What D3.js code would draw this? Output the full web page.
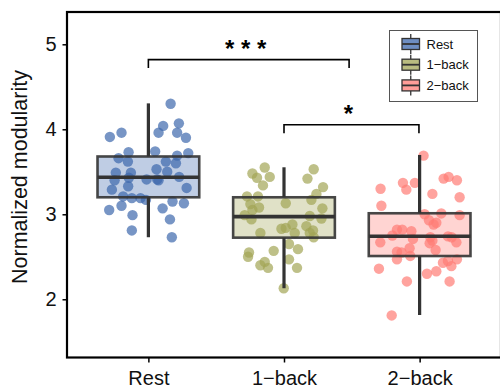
<!DOCTYPE html>
<html><head><meta charset="utf-8">
<script src="https://cdn.jsdelivr.net/npm/d3@7"></script>
<style>
html,body{margin:0;padding:0;background:#fff;}
svg{display:block;font-family:"Liberation Sans",Arial,Helvetica,sans-serif;}
</style></head>
<body>
<svg id="chart" width="500" height="386"></svg>
<script>
const categories = ["Rest", "1−back", "2−back"];
const yTicks = [2, 3, 4, 5];
const yLabel = "Normalized modularity";

// box statistics: [lowWhisker, Q1, median, Q3, highWhisker]
const boxStats = [
  [2.73, 3.20, 3.435, 3.68, 4.305],
  [2.13, 2.725, 2.972, 3.20, 3.553],
  [1.815, 2.509, 2.741, 3.012, 3.698]
];

const restValues = [4.30,4.04,4.07,3.96,3.96,3.90,3.91,3.96,3.73,3.66,3.62,3.74,3.69,3.72,3.62,3.60,3.53,3.50,3.49,3.49,3.43,3.40,3.41,3.41,3.40,3.44,3.33,3.29,3.31,3.21,3.19,3.19,3.17,3.15,3.13,3.10,3.05,3.07,2.99,2.94,2.81,2.73];
const restJitter = [0.164,0.109,0.225,0.075,0.212,0.277,-0.284,-0.198,-0.146,-0.220,-0.151,0.050,0.212,0.294,0.129,0.203,0.060,0.139,-0.240,-0.129,-0.144,-0.249,-0.013,0.065,0.075,0.227,-0.149,-0.269,0.282,-0.186,-0.122,-0.058,-0.018,0.178,0.262,-0.198,-0.289,0.105,-0.117,0.159,-0.122,0.173];

const oneBackValues = [3.55,3.48,3.43,3.44,3.34,3.53,3.42,3.32,3.24,3.17,3.21,3.21,3.12,3.08,3.05,3.13,3.07,2.99,2.94,2.95,2.98,2.88,2.84,2.83,2.86,2.81,2.78,2.78,2.78,2.73,2.65,2.57,2.59,2.55,2.50,2.47,2.44,2.40,2.37,2.37,2.13];
const oneBackJitter = [-0.142,-0.233,-0.199,-0.105,-0.155,0.219,0.173,0.288,0.239,0.202,-0.273,-0.192,-0.248,-0.184,-0.233,0.013,0.283,-0.290,-0.240,0.276,0.190,0.062,0.013,-0.019,0.165,0.214,0.079,-0.174,0.190,0.219,0.037,-0.076,0.103,-0.258,-0.265,0.037,-0.142,-0.174,-0.118,0.096,-0.002];

const twoBackValues = [3.69,3.37,3.37,3.29,3.30,3.42,3.44,3.40,3.24,3.20,3.10,3.00,3.01,2.99,2.93,2.88,2.90,2.82,2.82,2.80,2.75,2.71,2.73,2.69,2.74,2.73,2.67,2.67,2.66,2.58,2.60,2.56,2.55,2.51,2.47,2.47,2.43,2.45,2.39,2.36,2.33,2.30,2.21,2.21,1.81];
const twoBackJitter = [0.029,-0.123,-0.035,-0.098,-0.288,0.177,0.214,0.275,0.094,0.295,-0.282,0.037,0.160,0.295,0.069,0.103,0.123,-0.167,-0.128,-0.061,-0.201,-0.049,0.079,0.094,0.209,0.236,0.271,-0.290,0.074,0.118,-0.074,-0.167,-0.133,-0.069,-0.167,0.275,0.172,0.209,0.234,-0.300,0.123,0.054,-0.094,0.221,-0.206];

const brackets = [
  {from: 0, to: 1.48, y: 4.82, label: "* * *"},
  {from: 1, to: 1.995, y: 4.054, label: "*"}
];

const colors = ["#3d68ad", "#a2a556", "#ff7c75"];

const svg = d3.select("#chart");
const panel = {left: 67, right: 501, top: 12, bottom: 357.5};

const x = d3.scaleLinear().domain([-0.6, 2.6]).range([panel.left, panel.right]);
const y = d3.scaleLinear().domain([1.315, 5.38]).range([panel.bottom, panel.top]);

const groups = [
  {values: restValues, jitter: restJitter},
  {values: oneBackValues, jitter: oneBackJitter},
  {values: twoBackValues, jitter: twoBackJitter}
];

const boxHalf = 0.375;
const lineCol = "#333333";

// points
groups.forEach((g, i) => {
  svg.append("g").selectAll("circle")
    .data(g.values)
    .join("circle")
    .attr("cx", (v, j) => x(i + g.jitter[j]))
    .attr("cy", v => y(v))
    .attr("r", 5.2)
    .attr("fill", colors[i])
    .attr("fill-opacity", 0.7);
});

// boxes
const boxG = svg.append("g");
boxStats.forEach((s, i) => {
  const g = boxG.append("g");
  g.append("line").attr("x1", x(i)).attr("x2", x(i)).attr("y1", y(s[3])).attr("y2", y(s[4]))
    .attr("stroke", lineCol).attr("stroke-width", 3.2);
  g.append("line").attr("x1", x(i)).attr("x2", x(i)).attr("y1", y(s[0])).attr("y2", y(s[1]))
    .attr("stroke", lineCol).attr("stroke-width", 3.2);
  g.append("rect")
    .attr("x", x(i - boxHalf)).attr("width", x(i + boxHalf) - x(i - boxHalf))
    .attr("y", y(s[3])).attr("height", y(s[1]) - y(s[3]))
    .attr("fill", colors[i]).attr("fill-opacity", 0.33)
    .attr("stroke", lineCol).attr("stroke-width", 2.6).attr("stroke-opacity", 0.9);
  g.append("line").attr("x1", x(i - boxHalf)).attr("x2", x(i + boxHalf))
    .attr("y1", y(s[2])).attr("y2", y(s[2]))
    .attr("stroke", lineCol).attr("stroke-width", 3.6);
});

// panel frame
svg.append("rect")
  .attr("x", panel.left).attr("y", panel.top)
  .attr("width", panel.right - panel.left).attr("height", panel.bottom - panel.top)
  .attr("fill", "none").attr("stroke", "#000").attr("stroke-width", 2.2);

// y axis
const yAxis = d3.axisLeft(y).tickValues(yTicks).tickSize(4.5).tickPadding(6).tickFormat(d3.format("d"));
const yg = svg.append("g").attr("transform", `translate(${panel.left},0)`).call(yAxis);
yg.select(".domain").remove();
yg.selectAll(".tick line").attr("stroke", "#000").attr("stroke-width", 1.5);
yg.selectAll(".tick text").attr("font-size", 20).attr("fill", "#111").attr("font-family", "Liberation Sans, Arial, sans-serif");

// x axis
const xAxis = d3.axisBottom(x).tickValues([0, 1, 2]).tickSize(5).tickPadding(8).tickFormat(i => categories[i]);
const xg = svg.append("g").attr("transform", `translate(0,${panel.bottom})`).call(xAxis);
xg.select(".domain").remove();
xg.selectAll(".tick line").attr("stroke", "#000").attr("stroke-width", 1.5);
xg.selectAll(".tick text").attr("font-size", 20).attr("fill", "#111").attr("font-family", "Liberation Sans, Arial, sans-serif");

// y title
svg.append("text")
  .attr("transform", `translate(27,177) rotate(-90)`)
  .attr("text-anchor", "middle")
  .attr("font-size", 21.5)
  .attr("fill", "#111")
  .text(yLabel);

// significance brackets
const br = svg.append("g");
brackets.forEach(b => {
  const tickDrop = 0.1;
  br.append("path")
    .attr("d", `M${x(b.from)},${y(b.y - tickDrop)}V${y(b.y)}H${x(b.to)}V${y(b.y - tickDrop)}`)
    .attr("fill", "none").attr("stroke", "#000").attr("stroke-width", 1.6);
  br.append("text")
    .attr("x", (x(b.from) + x(b.to)) / 2 - 3)
    .attr("y", y(b.y) - 3)
    .attr("text-anchor", "middle")
    .attr("font-size", 24)
    .attr("font-weight", "bold")
    .attr("fill", "#000")
    .text(b.label);
});

// legend
const legend = svg.append("g");
const lg = {x: 389.5, y: 30.5, w: 88, h: 71};
legend.append("rect").attr("x", lg.x).attr("y", lg.y).attr("width", lg.w).attr("height", lg.h)
  .attr("fill", "#fff").attr("stroke", "#555").attr("stroke-width", 1);
categories.forEach((c, i) => {
  const cy = 44 + i * 20.7;
  const kx = 402, kw = 17.5;
  const k = legend.append("g");
  k.append("line").attr("x1", kx + kw / 2).attr("x2", kx + kw / 2).attr("y1", cy - 10).attr("y2", cy + 10)
    .attr("stroke", lineCol).attr("stroke-width", 1.3);
  k.append("rect").attr("x", kx).attr("y", cy - 5.5).attr("width", kw).attr("height", 11)
    .attr("fill", "#fff");
  k.append("rect").attr("x", kx).attr("y", cy - 5.5).attr("width", kw).attr("height", 11)
    .attr("fill", colors[i]).attr("fill-opacity", 0.75)
    .attr("stroke", lineCol).attr("stroke-width", 1.3);
  k.append("line").attr("x1", kx).attr("x2", kx + kw).attr("y1", cy).attr("y2", cy)
    .attr("stroke", lineCol).attr("stroke-width", 1.8);
  k.append("text").attr("x", 426.5).attr("y", cy).attr("dy", "0.35em")
    .attr("font-size", 13).attr("fill", "#111").text(c);
});
</script>
</body></html>
